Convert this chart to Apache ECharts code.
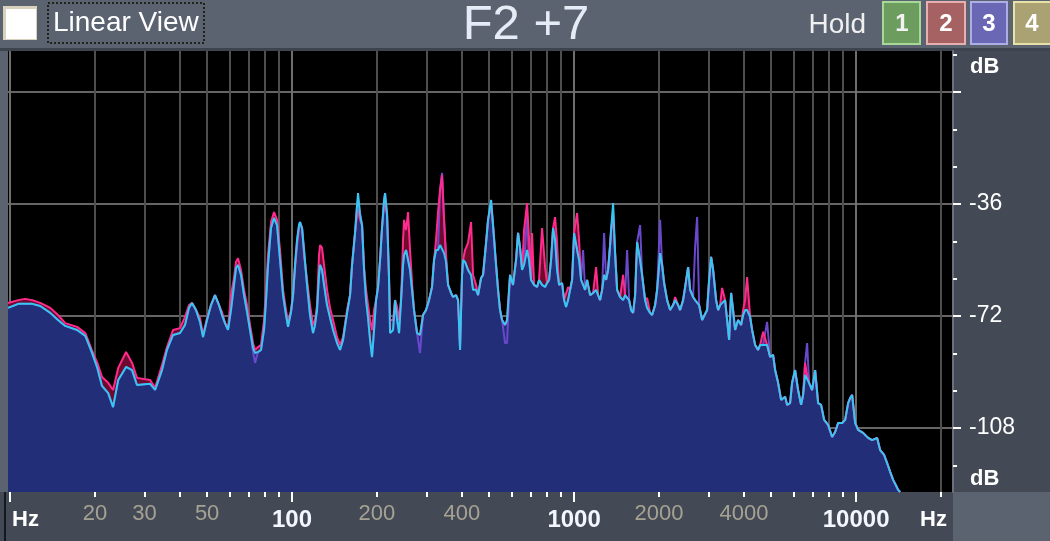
<!DOCTYPE html>
<html><head><meta charset="utf-8">
<script src="https://cdn.jsdelivr.net/npm/echarts@6/dist/echarts.min.js"></script>
<style>html,body{margin:0;padding:0;background:#5b6270;overflow:hidden}#c{width:1050px;height:541px}</style>
</head><body><div id="c"></div>
<script>
// ---- data: frequency (Hz) and level (dB) of the three traces ----
const freqHz = [
9.84,10.7,11.3,12.0,12.8,13.9,14.8,15.7,17.3,18.5,
19.5,20.4,21.2,22.3,23.2,24.2,25.8,27.1,28.2,31.4,
32.7,34.59,36.03,37.85,40.07,41.74,43.13,44.20,45.66,47.18,
48.35,49.96,51.61,53.32,55.09,56.46,57.86,59.30,60.76,62.27,
63.30,64.34,65.94,67.57,69.25,70.97,72.73,73.93,75.76,77.64,
79.57,80.88,82.21,84.24,86.33,88.48,90.67,92.92,95.22,96.79,
99.19,100.82,102.48,104.17,105.88,106.75,108.51,110.30,113.03,115.82,
118.69,120.65,122.63,124.65,125.69,127.76,129.86,133.08,136.40,139.78,
144.42,147.99,151.66,156.70,160.59,163.23,167.28,170.04,171.43,174.25,
177.12,180.04,183.00,186.01,189.07,192.18,195.35,198.56,201.83,205.18,
208.56,211.99,213.73,217.25,220.83,222.63,228.15,231.91,235.73,239.61,
243.53,247.54,249.57,253.68,257.86,262.05,266.37,270.75,277.47,284.33,
291.38,298.61,306.01,313.60,318.77,324.01,329.35,334.83,340.34,345.95,
351.65,357.44,366.27,372.30,381.53,387.82,394.18,400.67,403.96,410.61,
420.79,431.26,438.36,449.23,456.63,467.97,475.67,487.47,495.50,507.71,
516.07,528.87,537.58,546.39,555.39,569.16,578.53,592.90,607.60,622.68,
632.93,643.40,654.00,664.77,681.25,692.47,703.85,709.63,721.31,739.20,
751.37,770.02,789.11,802.11,815.31,828.76,842.41,856.28,870.38,884.71,
906.64,921.57,936.74,952.17,967.88,983.82,1000.0,1024.8,1041.7,1058.8,
1076.2,1094.0,1112.0,1139.6,1167.9,1196.8,1216.5,1236.6,1257.0,1277.7,
1298.7,1320.1,1341.8,1352.8,1375.1,1397.7,1420.7,1456.1,1492.2,1516.8,
1541.8,1567.1,1592.9,1619.1,1645.8,1672.8,1714.1,1742.3,1785.5,1814.9,
1860.0,1890.6,1937.5,1969.4,2018.4,2051.6,2085.4,2137.1,2190.2,2244.5,
2281.5,2338.1,2376.5,2435.4,2475.6,2536.9,2578.7,2642.7,2686.2,2730.4,
2775.3,2844.0,2890.8,2962.5,3011.3,3060.7,3111.1,3188.3,3240.7,3293.4,
3347.6,3430.7,3487.2,3544.6,3602.9,3662.2,3722.6,3814.9,3909.9,3974.3,
4039.7,4106.3,4208.1,4277.4,4383.5,4492.2,4566.2,4679.4,4834.8,4954.5,
5077.4,5161.0,5289.0,5419.8,5599.8,5692.0,5832.3,5928.4,6075.4,6226.1,
6380.2,6485.2,6592.1,6700.6,6810.9,6981.2,7154.4,7331.8,7513.2,7699.6,
7955.2,8218.8,8422.6,8631.5,8919.7,9141.0,9367.6,9521.4,9678.2,9918.3,
10164,10588,11030,11396,11871,12165,12569,12881,13199,13526,
13862,14090,14322];
// live trace (cyan, filled navy)
const liveDb = [
-69.4,-68.1,-68.1,-68.1,-68.8,-71.0,-73.3,-75.2,-76.5,-78.4,
-83.6,-88.7,-94.5,-96.8,-101.3,-92.6,-88.4,-89.4,-94.2,-93.8,
-95.8,-89.4,-82.9,-78.1,-77.5,-74.9,-69.4,-67.8,-70.1,-73.9,
-78.8,-73.3,-68.5,-65.3,-68.5,-71.7,-74.3,-76.5,-70.1,-62.0,
-56.6,-55.6,-58.8,-65.3,-70.7,-76.5,-82.3,-83.9,-83.6,-82.9,
-76.5,-66.9,-55.6,-43.7,-40.5,-42.8,-54.0,-65.3,-71.7,-75.5,
-70.7,-65.3,-55.6,-47.6,-42.8,-41.8,-43.7,-50.8,-62.0,-71.7,
-77.5,-74.9,-70.1,-58.8,-55.6,-57.2,-62.0,-68.5,-72.6,-76.5,
-80.7,-82.9,-79.7,-71.0,-65.3,-55.6,-45.3,-36.3,-32.5,-39.5,
-42.8,-57.2,-66.9,-72.6,-79.7,-85.2,-76.5,-66.9,-62.7,-54.0,
-43.4,-34.7,-32.5,-39.5,-60.4,-77.5,-76.5,-66.9,-73.3,-77.5,
-66.9,-55.6,-52.4,-50.8,-54.0,-57.2,-63.6,-70.1,-77.5,-78.1,
-71.7,-70.1,-66.9,-62.7,-54.0,-50.8,-50.8,-49.2,-49.2,-51.8,
-54.6,-62.0,-64.6,-65.9,-65.3,-66.9,-82.9,-58.8,-54.0,-54.6,
-57.2,-58.8,-63.6,-63.6,-65.3,-59.8,-58.8,-48.5,-41.1,-34.7,
-42.8,-55.6,-63.6,-70.1,-73.3,-74.9,-73.3,-58.8,-62.0,-54.0,
-45.3,-50.1,-57.2,-55.6,-50.8,-54.0,-60.4,-60.4,-62.0,-62.7,
-60.4,-62.0,-62.7,-61.4,-60.4,-54.0,-43.7,-47.6,-57.2,-62.0,
-61.4,-66.9,-69.1,-66.9,-63.6,-60.4,-45.3,-50.8,-54.0,-60.4,
-62.0,-63.6,-60.4,-65.3,-64.6,-63.6,-65.3,-66.9,-63.6,-58.8,
-60.4,-57.2,-49.2,-44.4,-35.7,-51.8,-63.6,-65.9,-66.9,-65.3,
-66.2,-66.9,-70.1,-71.0,-65.3,-48.2,-54.0,-58.8,-66.9,-69.4,
-71.0,-71.7,-68.5,-63.6,-51.8,-55.6,-61.4,-66.9,-70.1,-68.5,
-66.9,-68.5,-70.1,-66.9,-62.7,-56.3,-63.6,-65.9,-66.9,-66.9,
-68.5,-73.3,-73.3,-70.1,-60.4,-53.0,-57.2,-66.9,-70.1,-68.5,
-68.5,-66.9,-73.3,-79.7,-64.6,-70.1,-76.5,-73.3,-74.9,-71.7,
-70.1,-70.1,-72.3,-76.5,-81.3,-82.9,-81.3,-81.3,-81.3,-85.2,
-84.5,-89.4,-93.5,-99.0,-98.0,-100.6,-100.0,-93.5,-89.4,-95.8,
-100.6,-97.4,-91.0,-91.0,-93.5,-95.8,-89.4,-100.0,-100.6,-105.4,
-107.0,-110.9,-109.3,-106.4,-106.4,-105.4,-100.0,-98.4,-97.4,-106.4,
-108.6,-109.6,-111.2,-111.9,-111.2,-115.1,-116.7,-119.3,-122.1,-124.7,
-126.6,-127.9,-128.6];
// hold 2 (pink, dark red fill)
const hold2Db = [
-67.8,-66.9,-66.5,-66.9,-67.8,-69.4,-71.7,-74.3,-75.5,-77.5,
-82.9,-87.1,-91.6,-93.5,-95.8,-88.7,-83.6,-87.1,-91.9,-92.6,
-95.1,-87.8,-82.0,-76.5,-75.9,-72.3,-68.5,-67.8,-70.1,-72.6,
-78.1,-72.6,-68.5,-65.3,-68.5,-70.7,-74.3,-75.9,-65.3,-59.8,
-54.6,-53.4,-57.2,-63.6,-68.5,-74.9,-80.7,-82.9,-82.0,-81.3,
-73.3,-63.6,-52.4,-41.8,-38.6,-41.1,-50.8,-63.6,-70.1,-73.9,
-70.1,-65.3,-56.6,-49.2,-43.7,-42.8,-43.7,-52.4,-60.4,-68.5,
-74.9,-73.3,-68.5,-52.4,-49.2,-50.1,-55.6,-63.6,-69.4,-73.3,
-78.8,-81.3,-78.8,-70.1,-65.3,-55.6,-45.3,-39.5,-37.9,-41.1,
-42.8,-56.3,-63.6,-68.5,-73.3,-76.5,-70.1,-66.9,-62.7,-54.0,
-43.4,-36.3,-34.7,-39.5,-60.4,-73.3,-73.3,-66.9,-69.1,-73.3,
-66.9,-47.6,-41.1,-44.4,-38.6,-50.8,-61.4,-70.1,-77.5,-78.1,
-71.7,-70.1,-66.9,-62.7,-54.0,-47.6,-38.6,-31.5,-26.7,-41.1,
-52.4,-62.0,-64.6,-65.9,-65.3,-66.9,-81.3,-58.8,-54.0,-50.8,
-48.5,-41.8,-58.8,-62.0,-65.3,-59.8,-58.8,-48.5,-41.1,-36.3,
-42.8,-55.6,-63.6,-70.1,-73.3,-74.9,-73.3,-58.8,-62.0,-54.0,
-45.3,-50.1,-57.2,-44.4,-35.7,-47.6,-60.4,-45.3,-62.0,-62.7,
-60.4,-43.7,-56.3,-61.4,-60.4,-54.0,-43.7,-40.2,-48.5,-62.0,
-61.4,-66.9,-66.9,-62.7,-63.6,-60.4,-45.3,-38.9,-47.6,-60.4,
-62.0,-63.6,-60.4,-65.3,-64.6,-56.3,-65.3,-66.9,-63.6,-58.8,
-60.4,-57.2,-49.2,-44.4,-40.0,-51.8,-63.6,-65.9,-58.8,-65.3,
-66.2,-66.9,-70.1,-71.0,-65.3,-48.2,-54.0,-58.8,-66.9,-66.2,
-71.0,-71.7,-68.5,-63.6,-51.8,-55.6,-61.4,-66.9,-70.1,-68.5,
-65.9,-68.5,-70.1,-66.9,-62.7,-56.3,-63.6,-65.9,-66.9,-66.9,
-68.5,-73.3,-73.3,-70.1,-60.4,-53.0,-57.2,-66.9,-70.1,-68.5,
-63.0,-66.9,-73.3,-79.7,-64.6,-70.1,-76.5,-73.3,-74.9,-70.1,
-66.9,-59.5,-72.3,-76.5,-81.3,-82.9,-81.3,-77.1,-81.3,-85.2,
-84.5,-89.4,-93.5,-99.0,-98.0,-100.6,-100.0,-93.5,-89.4,-95.8,
-100.6,-97.4,-87.1,-91.0,-93.5,-95.8,-89.4,-100.0,-100.6,-105.4,
-107.0,-110.9,-109.3,-106.4,-106.4,-105.4,-100.0,-98.4,-97.4,-106.4,
-108.6,-109.6,-111.2,-111.9,-111.2,-115.1,-116.7,-119.3,-122.1,-124.7,
-126.6,-127.9,-128.6];
// hold 3 (purple)
const hold3Db = [
-69.4,-68.1,-68.1,-68.1,-68.8,-71.0,-73.3,-75.2,-76.5,-78.4,
-83.6,-88.7,-94.5,-96.8,-101.3,-92.6,-88.4,-89.4,-94.2,-93.8,
-95.8,-89.4,-82.9,-78.1,-77.5,-74.9,-69.4,-67.8,-70.1,-73.9,
-78.8,-73.3,-68.5,-65.3,-68.5,-71.7,-74.3,-76.5,-70.1,-62.0,
-56.6,-55.6,-58.8,-65.3,-70.7,-76.5,-83.6,-87.1,-83.6,-82.9,
-76.5,-66.9,-55.6,-43.7,-40.5,-42.8,-54.0,-65.3,-71.7,-75.5,
-70.7,-65.3,-55.6,-47.6,-42.8,-41.8,-43.7,-50.8,-62.0,-71.7,
-77.5,-74.9,-70.1,-58.8,-55.6,-57.2,-62.0,-68.5,-72.6,-76.5,
-80.7,-82.9,-79.7,-71.0,-65.3,-55.6,-45.3,-36.3,-34.7,-38.9,
-42.8,-57.2,-66.9,-72.6,-79.7,-85.2,-76.5,-66.9,-62.7,-54.0,
-43.4,-34.7,-32.5,-39.5,-60.4,-77.5,-76.5,-66.9,-73.3,-77.5,
-66.9,-55.6,-52.4,-50.8,-54.0,-57.2,-63.6,-70.1,-77.5,-83.9,
-71.7,-70.1,-66.9,-62.7,-54.0,-50.8,-50.8,-31.5,-26.0,-41.1,
-54.6,-62.0,-64.6,-65.9,-65.3,-66.9,-82.9,-58.8,-54.0,-54.6,
-57.2,-58.8,-63.6,-63.6,-65.3,-59.8,-58.8,-48.5,-41.1,-34.7,
-42.8,-55.6,-63.6,-70.1,-73.3,-80.7,-80.7,-58.8,-62.0,-54.0,
-45.3,-50.1,-57.2,-55.6,-39.5,-54.0,-60.4,-60.4,-62.0,-62.7,
-60.4,-62.0,-62.7,-61.4,-60.4,-54.0,-43.7,-47.6,-57.2,-62.0,
-61.4,-66.9,-69.1,-66.9,-63.6,-60.4,-45.3,-50.8,-54.0,-60.4,
-50.8,-63.6,-60.4,-65.3,-64.6,-63.6,-65.3,-66.9,-63.6,-45.3,
-60.4,-57.2,-49.2,-44.4,-38.0,-51.8,-63.6,-65.9,-66.9,-65.3,
-50.8,-66.9,-70.1,-71.0,-65.3,-48.2,-42.8,-58.8,-66.9,-69.4,
-71.0,-71.7,-68.5,-63.6,-41.1,-55.6,-61.4,-66.9,-70.1,-68.5,
-66.9,-68.5,-70.1,-66.9,-62.7,-56.3,-63.6,-65.9,-49.8,-40.2,
-68.5,-73.3,-73.3,-70.1,-60.4,-53.0,-57.2,-66.9,-70.1,-68.5,
-68.5,-66.9,-73.3,-79.7,-64.6,-70.1,-76.5,-73.3,-74.9,-71.7,
-70.1,-70.1,-72.3,-76.5,-81.3,-82.9,-81.3,-81.3,-73.9,-85.2,
-84.5,-89.4,-93.5,-99.0,-98.0,-100.6,-100.0,-93.5,-89.4,-95.8,
-100.6,-97.4,-87.1,-80.7,-93.5,-95.8,-89.4,-100.0,-100.6,-105.4,
-107.0,-110.9,-109.3,-106.4,-106.4,-105.4,-100.0,-98.4,-97.4,-106.4,
-108.6,-109.6,-111.2,-111.9,-111.2,-115.1,-116.7,-119.3,-122.1,-124.7,
-126.6,-127.9,-128.6];

// ---- axes ----
const xRangeHz = [9.84, 22050];
const yRangeDb = [-128.6, 13.2];
const xMinorTicksHz = [20,30,40,50,60,70,80,90,200,300,400,500,600,700,800,900,2000,3000,4000,5000,6000,7000,8000,9000,20000];
const xDecadeTicksHz = [10,100,1000,10000];
const xMinorLabelsHz = [20,30,50,200,400,2000,4000];
const xDecadeLabelsHz = [100,1000,10000];
const yMajorTicksDb = [0,-36,-72,-108];
const yLabelsDb = [-36,-72,-108];
const yMinorTicksDb = [12,-12,-24,-48,-60,-84,-96,-120];

const lg = v => Math.log10(v);
const pair = arr => freqHz.map((f, i) => [lg(f), arr[i]]);
const FONT = '"Liberation Sans", Arial, sans-serif';
const shadow = {textShadowColor: '#c87a20', textShadowOffsetX: 1, textShadowOffsetY: 1, textShadowBlur: 0};
const tshadow = {textShadowColor: '#c87a20', textShadowOffsetX: 1, textShadowOffsetY: 1};

const chart = echarts.init(document.getElementById('c'), null, {renderer: 'canvas'});
const xBase = {type: 'value', min: lg(xRangeHz[0]), max: lg(xRangeHz[1]), position: 'bottom', axisLine: {show: false, onZero: false}};
const hzFmt = v => String(Math.round(Math.pow(10, v)));

chart.setOption({
  animation: false,
  backgroundColor: '#5b6270',
  grid: {left: 8, right: 97, top: 51, bottom: 49, show: true, backgroundColor: '#000', borderWidth: 0},
  xAxis: [
    Object.assign({}, xBase, {
      axisTick: {show: true, customValues: xMinorTicksHz.map(lg), length: 5, lineStyle: {color: '#ffffff', width: 2}},
      splitLine: {show: true, lineStyle: {color: '#4e4e4e', width: 2}},
      axisLabel: {customValues: xMinorLabelsHz.map(lg), formatter: hzFmt, color: '#a6a293', fontSize: 22, fontFamily: FONT, margin: 11, ...shadow}
    }),
    Object.assign({}, xBase, {
      axisTick: {show: true, customValues: xDecadeTicksHz.map(lg), length: 10, lineStyle: {color: '#ffffff', width: 2}},
      splitLine: {show: true, lineStyle: {color: '#6e6e6e', width: 2}},
      axisLabel: {customValues: xDecadeLabelsHz.map(lg), formatter: hzFmt, color: '#f4f6ff', fontSize: 24, fontWeight: 'bold', fontFamily: FONT, margin: 16, ...shadow}
    })
  ],
  yAxis: [
    {type: 'value', min: yRangeDb[0], max: yRangeDb[1], position: 'right',
      axisLine: {show: true, onZero: false, lineStyle: {color: '#6a7080', width: 2}},
      axisTick: {show: true, customValues: yMajorTicksDb, length: 8, lineStyle: {color: '#ffffff', width: 2}},
      splitLine: {show: true, lineStyle: {color: '#666666', width: 2}},
      axisLabel: {customValues: yLabelsDb, color: '#ffffff', fontSize: 23, fontFamily: FONT, margin: 16, ...shadow}
    },
    {type: 'value', min: yRangeDb[0], max: yRangeDb[1], position: 'right',
      axisLine: {show: false, onZero: false},
      axisTick: {show: true, customValues: yMinorTicksDb, length: 4, lineStyle: {color: '#ffffff', width: 2}},
      splitLine: {show: false},
      axisLabel: {show: false}
    }
  ],
  series: [
    {type: 'line', name: 'hold2-fill', data: pair(hold2Db), symbol: 'none', silent: true, z: 1,
      lineStyle: {width: 0}, areaStyle: {color: '#6e0a2c', opacity: 1, origin: 'start'}},
    {type: 'line', name: 'live-fill', data: pair(liveDb), symbol: 'none', silent: true, z: 2,
      lineStyle: {width: 0}, areaStyle: {color: '#232e78', opacity: 1, origin: 'start'}},
    {type: 'line', name: 'hold3', data: pair(hold3Db), symbol: 'none', silent: true, z: 3,
      lineStyle: {width: 2, color: '#6a48cc'}},
    {type: 'line', name: 'hold2', data: pair(hold2Db), symbol: 'none', silent: true, z: 4,
      lineStyle: {width: 2, color: '#ff2a8c'}},
    {type: 'line', name: 'live', data: pair(liveDb), symbol: 'none', silent: true, z: 5,
      lineStyle: {width: 2, color: '#36c6f2'}}
  ],
  graphic: [
    {type: 'rect', z: -100, shape: {x: 0, y: 492, width: 953, height: 49}, style: {fill: '#444a55'}},
    {type: 'rect', z: -100, shape: {x: 953, y: 51, width: 97, height: 441}, style: {fill: '#444a55'}},
    {type: 'rect', z: -99, shape: {x: 4, y: 492, width: 2, height: 49}, style: {fill: '#15181c'}},
    {type: 'rect', z: -99, shape: {x: 0, y: 48, width: 1050, height: 3}, style: {fill: '#3e444e'}},
    {type: 'rect', shape: {x: 3, y: 6, width: 34, height: 34}, style: {fill: '#d8d2bc'}},
    {type: 'rect', shape: {x: 6, y: 9, width: 30, height: 30}, style: {fill: '#ffffff'}},
    {type: 'rect', shape: {x: 48, y: 3, width: 156, height: 40}, style: {fill: 'none', stroke: '#1e2218', lineWidth: 2, lineDash: [2, 2]}},
    {type: 'text', x: 53, y: 23, style: {text: 'Linear View', fill: '#ffffff', font: '28px ' + FONT, verticalAlign: 'middle'}},
    {type: 'text', x: 526, y: 25, style: {text: 'F2 +7', fill: '#e6ecf6', font: '49px ' + FONT, align: 'center', verticalAlign: 'middle'}},
    {type: 'text', x: 866, y: 25, style: {text: 'Hold', fill: '#f0f0f0', font: '28px ' + FONT, align: 'right', verticalAlign: 'middle'}},
    {type: 'rect', shape: {x: 883, y: 2, width: 37, height: 42}, style: {fill: '#6c9c5e', stroke: '#a8d898', lineWidth: 2}},
    {type: 'rect', shape: {x: 927, y: 2, width: 38, height: 42}, style: {fill: '#a66262', stroke: '#e6b0b0', lineWidth: 2}},
    {type: 'rect', shape: {x: 971, y: 2, width: 36, height: 42}, style: {fill: '#6a68b4', stroke: '#aeaee6', lineWidth: 2}},
    {type: 'rect', shape: {x: 1014, y: 2, width: 40, height: 42}, style: {fill: '#aaa272', stroke: '#e8e2a8', lineWidth: 2}},
    {type: 'text', x: 902, y: 24, style: Object.assign({text: '1', fill: '#f2f2f2', font: 'bold 24px ' + FONT, align: 'center', verticalAlign: 'middle'}, tshadow, {textShadowColor: '#b03010'})},
    {type: 'text', x: 946, y: 24, style: Object.assign({text: '2', fill: '#ffffff', font: 'bold 24px ' + FONT, align: 'center', verticalAlign: 'middle'}, tshadow)},
    {type: 'text', x: 989, y: 24, style: Object.assign({text: '3', fill: '#ffffff', font: 'bold 24px ' + FONT, align: 'center', verticalAlign: 'middle'}, tshadow)},
    {type: 'text', x: 1032, y: 24, style: Object.assign({text: '4', fill: '#ffffff', font: 'bold 24px ' + FONT, align: 'center', verticalAlign: 'middle'}, tshadow)},
    {type: 'text', x: 12, y: 520, style: Object.assign({text: 'Hz', fill: '#ffffff', font: 'bold 22px ' + FONT, verticalAlign: 'middle'}, tshadow)},
    {type: 'text', x: 947, y: 520, style: Object.assign({text: 'Hz', fill: '#ffffff', font: 'bold 22px ' + FONT, align: 'right', verticalAlign: 'middle'}, tshadow)},
    {type: 'text', x: 970, y: 67, style: Object.assign({text: 'dB', fill: '#ffffff', font: 'bold 22px ' + FONT, verticalAlign: 'middle'}, tshadow)},
    {type: 'text', x: 970, y: 479, style: Object.assign({text: 'dB', fill: '#ffffff', font: 'bold 22px ' + FONT, verticalAlign: 'middle'}, tshadow)}
  ]
});
</script></body></html>
